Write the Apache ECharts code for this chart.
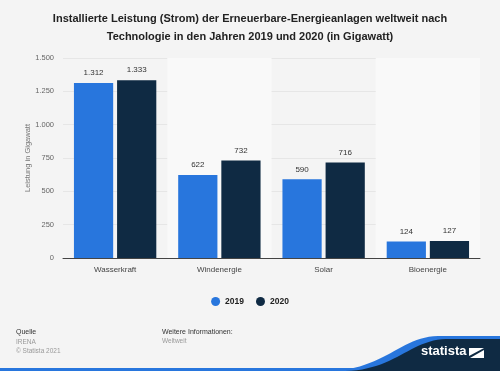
<!DOCTYPE html>
<html><head><meta charset="utf-8">
<script src="https://cdn.jsdelivr.net/npm/echarts@6/dist/echarts.min.js"></script>
<style>html,body{margin:0;padding:0;background:#f4f4f4}#c{width:500px;height:371px}</style>
</head><body><div id="c"></div>
<script>
const categories = ['Wasserkraft', 'Windenergie', 'Solar', 'Bioenergie'];
const values2019 = [1312, 622, 590, 124];
const values2020 = [1333, 732, 716, 127];
const seriesNames = ['2019', '2020'];
const yTicks = [0, 250, 500, 750, 1000, 1250, 1500];

const fmt = v => String(v).replace(/\B(?=(\d{3})+(?!\d))/g, '.');
// decorative wave for the logo area (cubic bezier sampled into a polygon)
function wave(p0, p1, p2, p3) {
  const pts = [];
  for (let i = 0; i <= 24; i++) {
    const t = i / 24, u = 1 - t;
    pts.push([u*u*u*p0[0] + 3*u*u*t*p1[0] + 3*u*t*t*p2[0] + t*t*t*p3[0],
              u*u*u*p0[1] + 3*u*u*t*p1[1] + 3*u*t*t*p2[1] + t*t*t*p3[1]]);
  }
  pts.push([500, p3[1]], [500, 371]);
  return pts;
}
const chart = echarts.init(document.getElementById('c'), null, {renderer: 'canvas'});
const F = 'Arial, "Liberation Sans", Helvetica, sans-serif';
const labelCfg = {show: true, position: 'top', distance: 6, color: '#333', fontSize: 8, fontFamily: F, formatter: p => fmt(p.value)};
chart.setOption({
  backgroundColor: '#f4f4f4',
  animation: false,
  title: {
    text: 'Installierte Leistung (Strom) der Erneuerbare-Energieanlagen weltweit nach\nTechnologie in den Jahren 2019 und 2020 (in Gigawatt)',
    left: 'center', top: 5,
    textStyle: {fontSize: 11, fontWeight: 'bold', color: '#222', fontFamily: F, lineHeight: 18, align: 'center'}
  },
  legend: {
    data: seriesNames, bottom: 60, left: 'center', icon: 'circle', itemWidth: 9, itemHeight: 9, itemGap: 12,
    textStyle: {fontSize: 8.5, fontWeight: 'bold', color: '#222', fontFamily: F}
  },
  grid: {left: 63, right: 20, top: 58, bottom: 113},
  xAxis: {
    type: 'category', data: categories,
    axisLine: {lineStyle: {color: '#444', width: 1}},
    axisTick: {show: false},
    axisLabel: {color: '#444', fontSize: 8, fontFamily: F, margin: 8},
    splitArea: {show: true, areaStyle: {color: ['rgba(0,0,0,0)', '#f9f9f9']}}
  },
  yAxis: {
    type: 'value', min: 0, max: 1500, interval: 250,
    name: 'Leistung in Gigawatt', nameLocation: 'middle', nameGap: 31, nameMoveOverlap: false,
    nameTextStyle: {color: '#777', fontSize: 7.5, fontFamily: F},
    axisLabel: {color: '#666', fontSize: 7.5, fontFamily: F, margin: 9, formatter: v => yTicks.includes(v) ? fmt(v) : ''},
    splitLine: {lineStyle: {color: '#e6e6e6', width: 1}},
    axisLine: {show: false}, axisTick: {show: false}
  },
  series: [
    {name: seriesNames[0], type: 'bar', data: values2019, itemStyle: {color: '#2876dd'}, barGap: '10%', barCategoryGap: '21%', label: labelCfg},
    {name: seriesNames[1], type: 'bar', data: values2020, itemStyle: {color: '#0f2a43'}, label: labelCfg}
  ],
  graphic: [
    {type: 'text', x: 16, y: 329, style: {text: 'Quelle', fontSize: 7, fill: '#333', fontFamily: F}},
    {type: 'text', x: 16, y: 338, style: {text: 'IRENA\n© Statista 2021', fontSize: 6.5, fill: '#999', fontFamily: F, lineHeight: 8.5}},
    {type: 'text', x: 162, y: 329, style: {text: 'Weitere Informationen:', fontSize: 7, fill: '#333', fontFamily: F}},
    {type: 'text', x: 162, y: 338, style: {text: 'Weltweit', fontSize: 6.5, fill: '#999', fontFamily: F}},
    {type: 'rect', shape: {x: 0, y: 368, width: 500, height: 3}, style: {fill: '#2876dd'}},
    {type: 'polygon', shape: {points: wave([330,371],[385,369],[400,337],[438,336])}, style: {fill: '#2876dd'}},
    {type: 'polygon', shape: {points: wave([345,371],[395,370],[410,340],[446,339])}, style: {fill: '#0f2a43'}},
    {type: 'text', x: 421, y: 345, style: {text: 'statista', fontSize: 13, fontWeight: 'bold', fill: '#fff', fontFamily: F}},
    {type: 'polygon', shape: {points: [[469,348],[484,348],[469,356]]}, style: {fill: '#fff'}},
    {type: 'polygon', shape: {points: [[484,350],[484,358],[470,358]]}, style: {fill: '#fff'}}
  ]
});
</script></body></html>
